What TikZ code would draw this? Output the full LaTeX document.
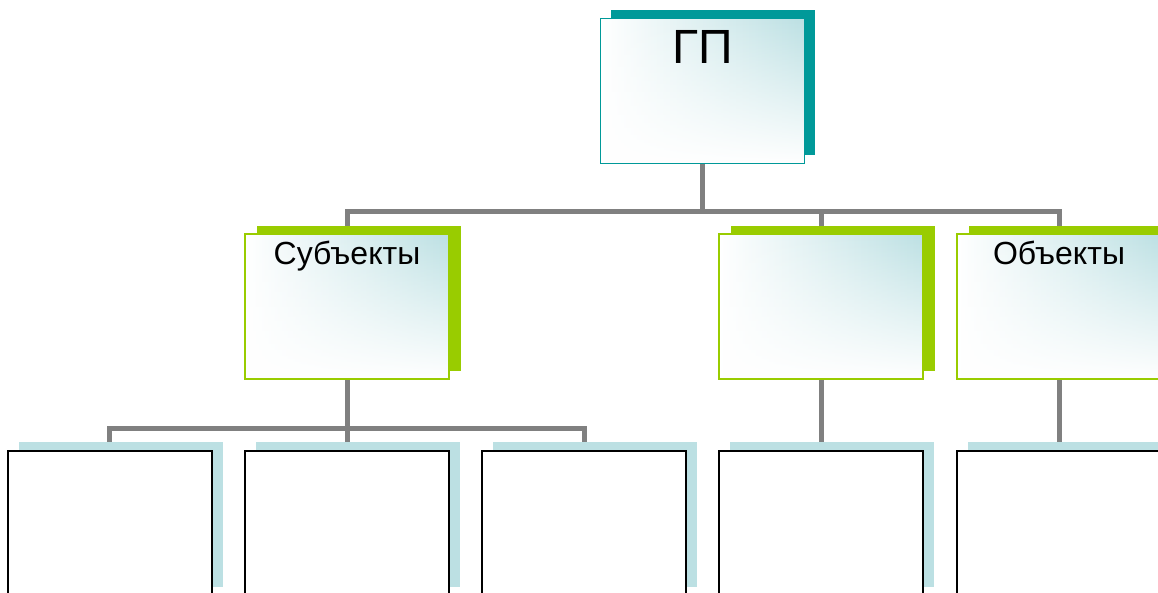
\documentclass[tikz,border=0pt]{standalone}
\usepackage{fontspec}
\setmainfont{Liberation Sans}
\usetikzlibrary{shadows,fadings,backgrounds}

\definecolor{tealdark}{RGB}{0,153,153}
\definecolor{limegreen}{RGB}{153,204,0}
\definecolor{paleblue}{RGB}{188,224,227}
\definecolor{linkgray}{RGB}{128,128,128}

\tikzset{
  card/.style={rectangle,inner sep=0pt,minimum width=204pt,minimum height=145pt,
    preaction={left color=white,right color=paleblue},
    preaction={fill=white,path fading=north}},
  head/.style={general shadow={fill=tealdark,shadow xshift=10pt,shadow yshift=9pt},
    card,draw=tealdark,line width=1.5pt},
  group/.style={general shadow={fill=limegreen,shadow xshift=12pt,shadow yshift=8pt},
    card,draw=limegreen,line width=1.5pt},
  leaf/.style={general shadow={fill=paleblue,shadow xshift=11pt,shadow yshift=9pt},
    rectangle,inner sep=0pt,minimum width=204pt,minimum height=145pt,
    fill=white,draw=black,line width=2pt},
  title/.style={anchor=base,yshift=-31pt,font=\fontsize{32}{34}\selectfont},
  link/.style={draw=linkgray,line width=5pt},
}

\begin{document}
\begin{tikzpicture}[x=1pt,y=-1pt]
\useasboundingbox (0,0) rectangle (1158,592);

\node [head,label={[title,yshift=-15pt,font=\fontsize{48}{50}\selectfont]north:ГП}] (gp) at (702.5,91) {};

\node [group,label={[title]north:Субъекты}] (subj) at (347,306.5) {};
\node [group] (mid) at (821,306.5) {};
\node [group,label={[title]north:Объекты}] (obj) at (1059,306.5) {};

\node [leaf] (s1) at (109.5,523.5) {};
\node [leaf] (s2) at (347,523.5) {};
\node [leaf] (s3) at (584,523.5) {};
\node [leaf] (m1) at (821,523.5) {};
\node [leaf] (o1) at (1059,523.5) {};

\begin{scope}[on background layer]
\path [link] (gp.south) -- ++(0,47) -| (subj.north);
\path [link] (gp.south) -- ++(0,47) -| (mid.north);
\path [link] (gp.south) -- ++(0,47) -| (obj.north);
\path [link] (subj.south) -- ++(0,49) -| (s1.north);
\path [link] (subj.south) -- (s2.north);
\path [link] (subj.south) -- ++(0,49) -| (s3.north);
\path [link] (mid.south) -- (m1.north);
\path [link] (obj.south) -- (o1.north);
\end{scope}

\end{tikzpicture}
\end{document}
